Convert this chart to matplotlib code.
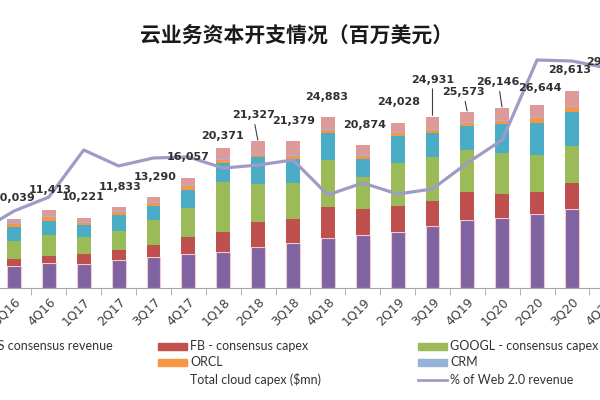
import matplotlib.pyplot as plt
from matplotlib.patches import Rectangle
from matplotlib.lines import Line2D
import numpy as np

plt.rcParams['font.family'] = ['DejaVu Sans']

# quarters (2Q16 sits just off the left edge of the picture)
quarters = ['2Q16', '3Q16', '4Q16', '1Q17', '2Q17', '3Q17', '4Q17', '1Q18', '2Q18', '3Q18',
            '4Q18', '1Q19', '2Q19', '3Q19', '4Q19', '1Q20', '2Q20', '3Q20', '4Q20']

# stacked capex pieces ($mn), bottom to top
amzn = [3000, 3200, 3590, 3490, 4070, 4550, 4950, 5280, 6010, 6590, 7230, 7710, 8190, 9020, 9890, 10140, 10740, 11450, 12080]
fb = [1000, 1090, 1060, 1460, 1460, 1700, 2430, 2910, 3550, 3450, 4600, 3740, 3810, 3640, 4150, 3540, 3270, 3780, 3930]
googl = [2400, 2590, 3060, 2430, 2810, 3640, 4220, 7280, 5530, 5280, 6790, 4740, 6140, 6450, 6040, 6010, 5340, 5430, 5530]
msft = [1800, 1990, 2110, 1790, 2280, 2040, 2660, 2760, 3930, 3400, 3880, 2600, 3970, 3400, 3490, 4180, 4700, 4990, 5240]
orcl = [380, 410, 510, 330, 390, 390, 580, 390, 330, 480, 480, 480, 390, 480, 390, 440, 640, 730, 730]
crm = [150, 150, 150, 150, 150, 150, 150, 150, 150, 150, 150, 150, 150, 150, 150, 150, 150, 150, 150]
other = [570, 609, 933, 571, 673, 820, 1067, 1601, 1827, 2029, 1753, 1454, 1378, 1791, 1463, 1686, 1804, 2083, 2040]

# total cloud capex labels
totals = [9300, 10039, 11413, 10221, 11833, 13290, 16057, 20371, 21327, 21379,
          24883, 20874, 24028, 24931, 25573, 26146, 26644, 28613, 29700]

# % of Web 2.0 revenue (right axis, not shown)
web_pct = [3.73, 5.12, 6.05, 9.18, 8.12, 8.65, 8.72, 7.98, 8.18, 8.52,
           6.19, 6.99, 6.25, 6.59, 8.32, 9.85, 15.17, 15.10, 14.64]

# label nudges in pixels, and which labels have a leader line
label_dx = [0, 0, 1, -1, 1, 2, 0, -1, -5, 1, -1, 2, 1, 0, -4, -4, 3, -2, 1]
label_dy = [21, 21, 20, 21, 20, 20, 21, 12, 26, 20, 20, 20, 21, 37, 20, 26, 17, 21, 22]
leader = [False] * 8 + [True] + [False] * 4 + [True, True, True] + [False] * 3

series = [amzn, fb, googl, msft, orcl, crm, other]
colors = ['#8064A2', '#C0504D', '#9BBB59', '#4BACC6', '#F79646', '#A5B5D6', '#DD9A99']

fig = plt.figure(figsize=(6, 4), dpi=100)
# axes run past both figure edges, the original picture is a crop
ax = fig.add_axes([-50 / 600, 0.28, 700 / 600, 0.60125])
x = np.arange(len(quarters))

bottom = np.zeros(len(quarters))
for i, (vals, c) in enumerate(zip(series, colors)):
    if i == 0:
        ax.bar(x, vals, width=0.4, bottom=bottom, color=c, edgecolor='#F3C9D2', linewidth=0.8, zorder=2)
    else:
        ax.bar(x, vals, width=0.4, bottom=bottom, color=c, linewidth=0, zorder=2)
    bottom += np.array(vals)

ax.set_ylim(0, 35000)
ax.set_yticks([])
for s in ['top', 'left', 'right']:
    ax.spines[s].set_visible(False)
ax.spines['bottom'].set_color('#A6A6A6')
ax.set_xticks(x)
ax.set_xticklabels(quarters, rotation=45, ha='right', rotation_mode='anchor', fontsize=9, color='#404040')
ax.tick_params(axis='x', which='major', length=0, pad=5)
ax.set_xticks(x + 0.5, minor=True)
ax.tick_params(axis='x', which='minor', length=5, color='#A6A6A6')

# % line on the secondary axis
ax2 = ax.twinx()
ax2.plot(x, web_pct, color='#A09BC6', linewidth=2.3, zorder=3)
ax2.set_ylim(0, 16)
ax2.set_yticks([])
for s in ['top', 'left', 'right', 'bottom']:
    ax2.spines[s].set_visible(False)

# set after all plotting so the twin axis does not rescale it
ax.set_xlim(-0.835, 19.237)

# total labels on top
for i in range(len(quarters)):
    props = None
    if leader[i]:
        props = dict(arrowstyle='-', color='#404040', lw=0.8, shrinkA=1, shrinkB=1)
    ax2.annotate(f'{totals[i]:,}', xy=(x[i], bottom[i]), xycoords=ax.transData,
                 xytext=(label_dx[i], label_dy[i]), textcoords='offset pixels',
                 ha='center', va='center', fontsize=8, fontweight='bold', color='#303030',
                 arrowprops=props, zorder=5)

fig.text(297 / 600, 1 - 35 / 400, '云业务资本开支情况（百万美元）', ha='center', va='center',
         fontsize=15, fontweight='bold', color='#1a1a1a', family=['Noto Sans CJK SC', 'DejaVu Sans'])

# legend, drawn by hand (it is wider than the picture)
def fx(px):
    return px / 600

def fy(py):
    return 1 - py / 400

leg_font = dict(fontsize=9, color='#333333', family=['Lato', 'DejaVu Sans'], va='center')
fig.text(fx(113), fy(346), 'AMZN - AWS consensus revenue', ha='right', **leg_font)
legend_items = [
    (158, 346, '#C0504D', 'FB - consensus capex'),
    (418, 346, '#9BBB59', 'GOOGL - consensus capex'),
    (158, 362, '#F79646', 'ORCL'),
    (418, 362, '#95B3D7', 'CRM'),
    (158, 380, None, 'Total cloud capex ($mn)'),
]
for px, py, c, txt in legend_items:
    if c is not None:
        fig.patches.append(Rectangle((fx(px), fy(py + 3.5)), 29 / 600, 7 / 400, color=c,
                                     transform=fig.transFigure, figure=fig))
    fig.text(fx(px + 32), fy(py), txt, ha='left', **leg_font)
fig.lines.append(Line2D([fx(418), fx(447)], [fy(380), fy(380)], color='#A09BC6', linewidth=2,
                        transform=fig.transFigure, figure=fig))
fig.text(fx(450), fy(380), '% of Web 2.0 revenue', ha='left', **leg_font)

fig.savefig('out.png', dpi=100)
